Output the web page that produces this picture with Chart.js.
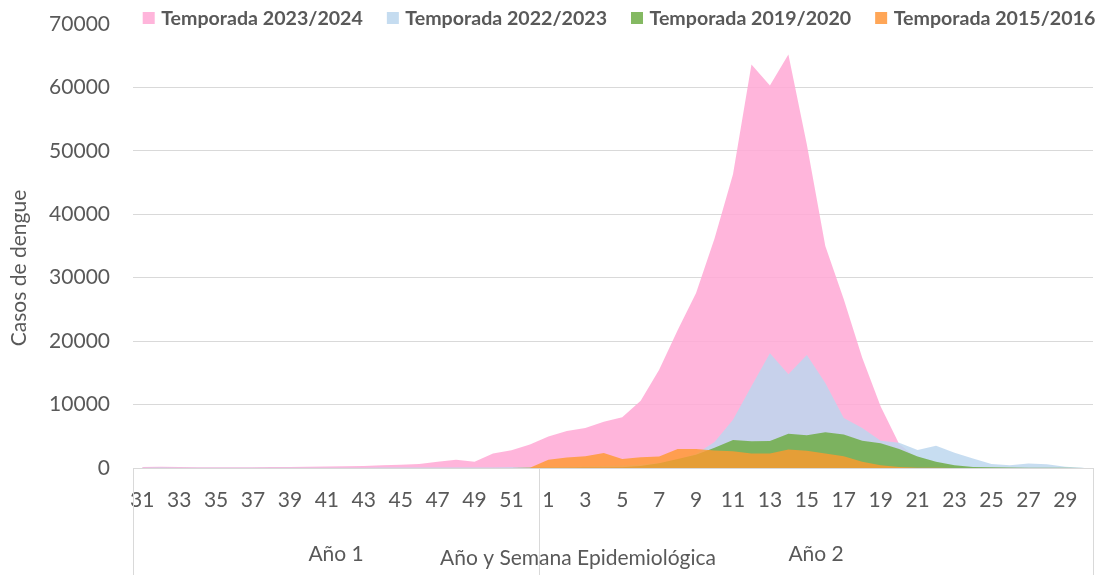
<!DOCTYPE html>
<html><head><meta charset="utf-8">
<script src="https://cdn.jsdelivr.net/npm/chart.js@4"></script>
<style>html,body{margin:0;padding:0;background:#fff}</style>
</head><body>
<canvas id="c" width="1096" height="575" style="width:1096px;height:575px;display:block"></canvas>
<script>
const weeks = ['31','32','33','34','35','36','37','38','39','40','41','42','43','44','45','46','47','48','49','50','51','52',
  '1','2','3','4','5','6','7','8','9','10','11','12','13','14','15','16','17','18','19','20','21','22','23','24','25','26','27','28','29','30'];
const groupLabels = ['Año 1', 'Año 2'];
const seriesNames = ['Temporada 2023/2024', 'Temporada 2022/2023', 'Temporada 2019/2020', 'Temporada 2015/2016'];
const s2023_2024 = [150,200,150,120,100,100,120,150,150,180,220,260,330,420,500,650,1000,1300,1000,2300,2800,3700,
  4950,5850,6300,7300,8000,10600,15500,21700,27600,36200,46300,63600,60300,65200,51000,35000,26600,17400,9700,3800,1500,700,300,150,80,50,30,20,10,0];
const s2022_2023 = [50,60,50,50,40,40,40,40,50,50,50,50,50,60,60,60,70,70,80,90,100,120,
  150,200,250,300,400,550,800,1300,2200,4100,7600,12900,18100,14800,17800,13400,7900,6300,4300,4000,2850,3500,2400,1500,650,420,700,600,200,50];
const s2019_2020 = [0,0,0,0,0,0,0,0,0,0,0,0,0,0,0,0,0,0,0,10,10,20,
  30,50,60,80,120,300,750,1400,2100,3200,4400,4200,4250,5400,5150,5650,5300,4300,3900,3000,1800,1000,430,150,100,60,40,30,20,10];
const s2015_2016 = [0,0,0,0,0,0,0,0,0,0,0,0,0,0,0,0,0,0,0,0,0,50,
  1300,1650,1850,2350,1400,1700,1800,3000,3000,2750,2650,2300,2300,2900,2700,2300,1850,1000,430,150,50,20,0,0,0,0,0,0,0,0];
const yTicks = [0,10000,20000,30000,40000,50000,60000,70000];
const xTitle = 'Año y Semana Epidemiológica';
const yTitle = 'Casos de dengue';

const colors = ['rgba(255,168,213,0.85)','rgba(189,215,238,0.85)','rgba(112,173,71,0.85)','rgba(255,152,45,0.8)'];
const legendColors = ['#FFB5DB','#C5DCF0','#84B962','#FFA657'];
const txt = '#595959';
const FONT = 'Lato';

const deco = {
  id: 'deco',
  afterDraw(chart) {
    const ctx = chart.ctx, x = chart.scales.x, a = chart.chartArea;
    ctx.save();
    ctx.strokeStyle = '#D9D9D9'; ctx.lineWidth = 1;
    const mid = (x.getPixelForValue(21) + x.getPixelForValue(22)) / 2;
    [a.left, mid, a.right].forEach(px => {
      const p = Math.round(px) + 0.5;
      ctx.beginPath(); ctx.moveTo(p, a.bottom); ctx.lineTo(p, chart.height); ctx.stroke();
    });
    ctx.fillStyle = txt; ctx.textAlign = 'center'; ctx.textBaseline = 'middle';
    ctx.font = '21px ' + FONT;
    ctx.fillText(groupLabels[0], (a.left + mid) / 2, 554);
    ctx.fillText(groupLabels[1], (mid + a.right) / 2, 554);
    ctx.fillText(xTitle, 578, 558);
    ctx.save();
    ctx.translate(19, 268); ctx.rotate(-Math.PI / 2);
    ctx.fillText(yTitle, 0, 0);
    ctx.restore();
    // legend
    ctx.font = 'bold 19.6px ' + FONT;
    const box = 12, gap = 6.5, itemGap = 24;
    const widths = seriesNames.map(n => ctx.measureText(n).width);
    const total = widths.reduce((s, w) => s + box + gap + w, 0) + itemGap * (seriesNames.length - 1);
    let cx = 619 - total / 2;
    const cy = 18;
    ctx.textAlign = 'left';
    seriesNames.forEach((n, i) => {
      ctx.fillStyle = legendColors[i];
      ctx.fillRect(cx, cy - box / 2, box, box);
      ctx.fillStyle = txt;
      ctx.fillText(n, cx + box + gap, cy + 1);
      cx += box + gap + widths[i] + itemGap;
    });
    ctx.restore();
  }
};

const data = [s2023_2024, s2022_2023, s2019_2020, s2015_2016];
new Chart(document.getElementById('c'), {
  type: 'line',
  data: {
    labels: weeks,
    datasets: data.map((d, i) => ({
      label: seriesNames[i], data: d, fill: 'origin',
      backgroundColor: colors[i], borderWidth: 0, borderColor: 'transparent',
      pointRadius: 0, tension: 0, order: 4 - i
    }))
  },
  options: {
    responsive: false, animation: false, devicePixelRatio: 1,
    layout: { padding: { left: 48, right: 3, top: 24, bottom: 0 } },
    plugins: { legend: { display: false }, tooltip: { enabled: false } },
    scales: {
      x: {
        type: 'category', offset: true,
        grid: { display: false, drawTicks: true, tickLength: 20 },
        border: { display: true, color: '#D9D9D9', width: 1 },
        ticks: {
          autoSkip: false, maxRotation: 0, minRotation: 0, padding: 0,
          color: txt, font: { family: FONT, size: 21 },
          callback: (v, i) => (i % 2 === 0 ? weeks[i] : '')
        },
        afterFit: s => { s.height = 107; }
      },
      y: {
        min: 0, max: 70000,
        afterBuildTicks: s => { s.ticks = yTicks.map(v => ({ value: v })); },
        grid: { color: c => (c.tick && c.tick.value === 70000 ? 'rgba(0,0,0,0)' : '#D9D9D9'), lineWidth: 1, drawTicks: true, tickLength: 23, tickColor: 'rgba(0,0,0,0)' },
        border: { display: false },
        ticks: { color: txt, font: { family: FONT, size: 21 }, padding: 0, callback: v => String(v) },
        afterFit: s => { s.width = 85; }
      }
    }
  },
  plugins: [deco]
});
</script>
</body></html>
